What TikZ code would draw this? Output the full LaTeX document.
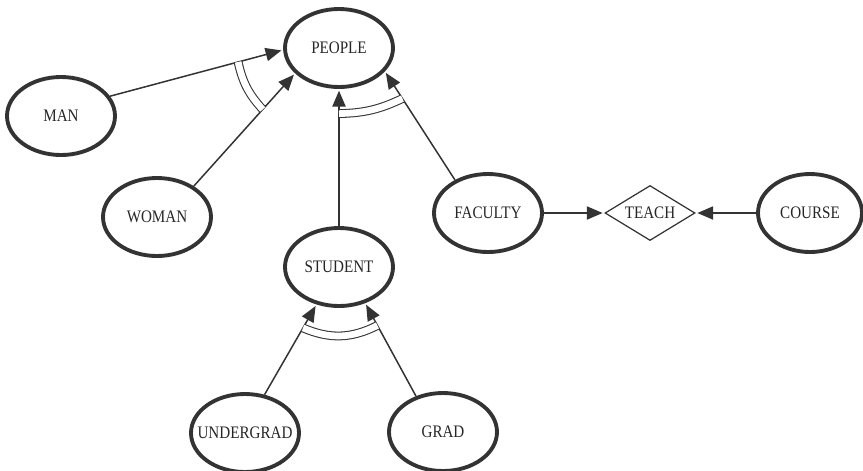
\documentclass[tikz,border=0pt]{standalone}
\usepackage{fontspec}
\setmainfont[FakeStretch=0.86]{Liberation Serif}
\usetikzlibrary{positioning, arrows.meta, shapes.geometric}

\begin{document}
\begin{tikzpicture}[
      % エンティティ（楕円）の基本スタイル
      entity/.style={ellipse, draw=black!80, line width=2.2pt, minimum width=2.16cm, minimum height=1.56cm, inner xsep=-0.2cm, inner ysep=0pt},
      % 関連（菱形）のスタイル
      relation/.style={diamond, draw=black!80, line width=0.7pt, aspect=1.6, minimum width=1.8cm, minimum height=1.1cm, inner sep=0pt},
      % 矢印のスタイル
      line/.style={draw=black!80, line width=0.85pt, -{Triangle[length=9pt, width=7.5pt]}, shorten >=1pt},
      % 二重線の弧
      cover/.style={draw=black!80, line width=0.6pt, double, double distance=3.8pt},
      font=\fontsize{10}{12}\selectfont,
      text=black!85,
      on grid
    ]

    \useasboundingbox (0,0) rectangle (17.26,-9.4);

    % --- 上位：PEOPLE ---
    \node [entity] (people) at (6.78,-0.96) {PEOPLE};
    \node [entity, below left=1.36cm and 5.56cm of people] (man) {MAN};
    \node [entity, below left=3.38cm and 3.64cm of people] (woman) {WOMAN};
    \node [entity, below=4.38cm of people] (student) {STUDENT};
    \node [entity, below right=3.3cm and 2.98cm of people] (faculty) {FACULTY};

    % --- 右側：関連 TEACH ---
    \node [relation, right=3.24cm of faculty] (teach) {TEACH};
    \node [entity, right=3.2cm of teach, minimum width=2.08cm] (course) {COURSE};

    % --- 下段：STUDENT の下位 ---
    \node [entity, below left=3.32cm and 1.88cm of student] (undergrad) {UNDERGRAD};
    \node [entity, below right=3.3cm and 2.08cm of student] (grad) {GRAD};

    % --- 矢印 ---
    \draw [line] (man.22) -- coordinate[pos=0.74] (m1) (people.182);
    \draw [line] (woman.40) -- coordinate[pos=0.68] (w1) (people.210);
    \draw [line] (student) -- coordinate[pos=0.82] (s1) (people);
    \draw [line] (faculty.135) -- coordinate[pos=0.75] (f1) (people.333);
    \draw [line] (undergrad.63) -- coordinate[pos=0.74] (u1) (student.239);
    \draw [line] (grad.127) -- coordinate[pos=0.76] (g1) (student.306);
    \draw [line] (faculty) -- (teach);
    \draw [line] (course) -- (teach);

    % --- 二重線の弧 ---
    \draw [cover] (m1) to[bend right=15] (w1);
    \draw [cover] (s1) to[bend right=12] (f1);
    \draw [cover] (u1) to[bend right=25] (g1);

\end{tikzpicture}
\end{document}
